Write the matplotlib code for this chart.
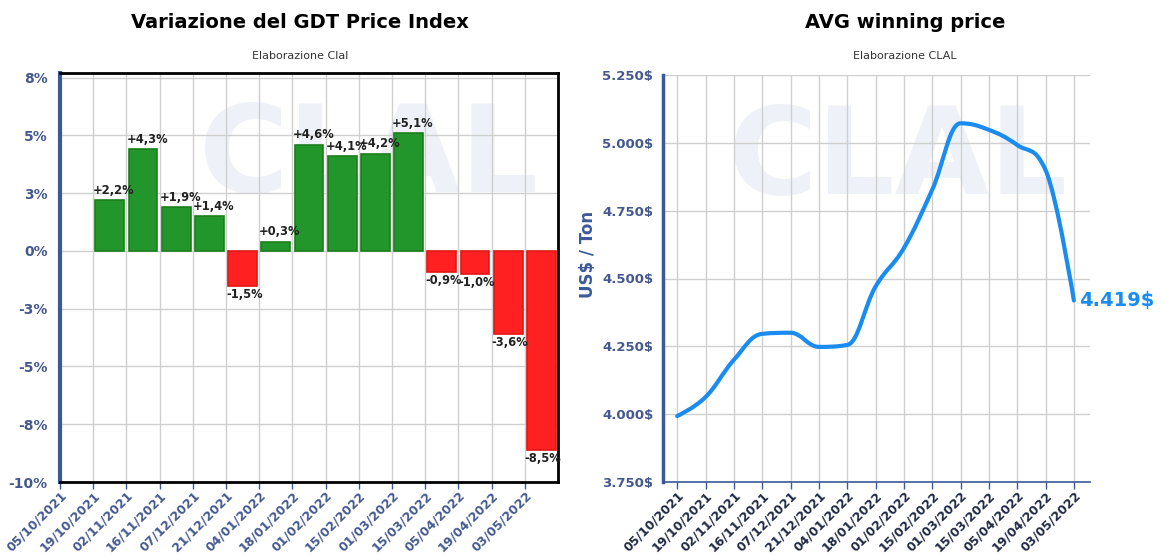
import numpy as np
import matplotlib
matplotlib.use('Agg')
import matplotlib.pyplot as plt
import matplotlib.transforms as mtransforms
from matplotlib.path import Path
from matplotlib.patches import PathPatch

matplotlib.rcParams['font.family'] = ['DejaVu Sans']

# dati
date_labels = ['05/10/2021', '19/10/2021', '02/11/2021', '16/11/2021', '07/12/2021',
               '21/12/2021', '04/01/2022', '18/01/2022', '01/02/2022', '15/02/2022',
               '01/03/2022', '15/03/2022', '05/04/2022', '19/04/2022', '03/05/2022']
gdt_change = [2.2, 4.3, 1.9, 1.4, -1.5, 0.3, 4.6, 4.1, 4.2, 5.1, -0.9, -1.0, -3.6, -8.5]
gdt_bar_height = [2.2, 4.4, 1.9, 1.5, -1.5, 0.4, 4.6, 4.1, 4.2, 5.1, -0.9, -1.0, -3.6, -8.6]
avg_price = [3993, 4063, 4200, 4296, 4300, 4248, 4255, 4470, 4612, 4827,
             5072, 5048, 4992, 4900, 4419]
left_yticks = [-10, -7.5, -5, -2.5, 0, 2.5, 5, 7.5]
left_ytick_labels = ['-10%', '-8%', '-5%', '-3%', '0%', '3%', '5%', '8%']
right_yticks = [3750, 4000, 4250, 4500, 4750, 5000, 5250]
right_ytick_labels = ['3.750$', '4.000$', '4.250$', '4.500$', '4.750$', '5.000$', '5.250$']

axis_blue = '#3b5998'
label_blue = '#44598f'
green = '#22962a'
red = '#ff2121'
line_blue = '#1a8cf0'
wm_color = '#eef1f8'

fig = plt.figure(figsize=(11.63, 5.56), dpi=100)

# ---------------- grafico a barre ----------------
ax1 = fig.add_axes([60 / 1163, 1 - 482 / 556, 498 / 1163, 409 / 556])
ax1.text(0.62, 0.79, 'CLAL', transform=ax1.transAxes, ha='center', va='center',
         fontsize=88, fontweight='bold', color=wm_color, zorder=0, clip_on=True)

xpos = np.arange(len(gdt_change)) + 1.5
colors = [green if v >= 0 else red for v in gdt_change]
edges = ['#1c7f1c' if v >= 0 else '#e01515' for v in gdt_change]
ax1.bar(xpos, gdt_bar_height, width=0.87, color=colors, edgecolor=edges,
        linewidth=1.2, zorder=3)
for x, v, h in zip(xpos, gdt_change, gdt_bar_height):
    txt = ('%+.1f%%' % v).replace('.', ',')
    if v >= 0:
        ax1.text(x - 0.5, h + 0.15, txt, ha='left', va='bottom', fontsize=8.3,
                 fontweight='bold', color='#222222', zorder=4)
    else:
        ax1.text(x - 0.5, h - 0.1, txt, ha='left', va='top', fontsize=8.3,
                 fontweight='bold', color='#222222', zorder=4)

ax1.set_xlim(0, 15)
ax1.set_ylim(-10, 7.7)
ax1.set_xticks(range(len(date_labels)))
ax1.set_xticklabels(date_labels, rotation=45, ha='right', rotation_mode='anchor',
                    fontsize=9, fontweight='bold', color=label_blue)
shift = mtransforms.ScaledTranslation(0.11, -0.03, fig.dpi_scale_trans)
for lab in ax1.get_xticklabels():
    lab.set_transform(lab.get_transform() + shift)
ax1.set_yticks(left_yticks)
ax1.set_yticklabels(left_ytick_labels, fontsize=10, fontweight='bold', color=label_blue)
ax1.tick_params(axis='y', length=0, pad=9)
ax1.tick_params(axis='x', length=5, color=axis_blue, width=1, pad=0)
ax1.grid(True, color='#cfcfcf', linewidth=1, zorder=1)
ax1.set_axisbelow(True)
for s in ['top', 'right', 'bottom']:
    ax1.spines[s].set_color('black')
    ax1.spines[s].set_linewidth(2)
ax1.spines['left'].set_color(axis_blue)
ax1.spines['left'].set_linewidth(3)

fig.text(300 / 1163, 1 - 22 / 556, 'Variazione del GDT Price Index', ha='center',
         va='center', fontsize=14, fontweight='bold')
fig.text(300 / 1163, 1 - 56 / 556, 'Elaborazione Clal', ha='center', va='center',
         fontsize=8, color='#333333')

# ---------------- grafico a linea ----------------
ax2 = fig.add_axes([663 / 1163, 1 - 482 / 556, 427 / 1163, 407 / 556])
ax2.text(0.55, 0.79, 'CLAL', transform=ax2.transAxes, ha='center', va='center',
         fontsize=88, fontweight='bold', color=wm_color, zorder=0, clip_on=True)

# curva smussata (spline tipo Highcharts) costruita dai punti
xs = np.arange(len(avg_price), dtype=float)
ys = np.array(avg_price, dtype=float)
verts = [(xs[0], ys[0])]
codes = [Path.MOVETO]
sm = 1.5
def ctrl(i):
    lx = (sm * xs[i] + xs[i - 1]) / (sm + 1)
    ly = (sm * ys[i] + ys[i - 1]) / (sm + 1)
    rx = (sm * xs[i] + xs[i + 1]) / (sm + 1)
    ry = (sm * ys[i] + ys[i + 1]) / (sm + 1)
    corr = (ry - ly) * (rx - xs[i]) / (rx - lx) + ys[i] - ry
    ly += corr
    ry += corr
    if ly > max(ys[i - 1], ys[i]) or ly < min(ys[i - 1], ys[i]):
        ly = max(min(ly, max(ys[i - 1], ys[i])), min(ys[i - 1], ys[i]))
        ry = 2 * ys[i] - ly
    if ry > max(ys[i + 1], ys[i]) or ry < min(ys[i + 1], ys[i]):
        ry = max(min(ry, max(ys[i + 1], ys[i])), min(ys[i + 1], ys[i]))
        ly = 2 * ys[i] - ry
    return (lx, ly), (rx, ry)

n = len(xs)
cl = [None] * n
cr = [None] * n
cr[0] = (xs[0], ys[0])
cl[n - 1] = (xs[n - 1], ys[n - 1])
for i in range(1, n - 1):
    cl[i], cr[i] = ctrl(i)
for i in range(1, n):
    verts += [cr[i - 1], cl[i], (xs[i], ys[i])]
    codes += [Path.CURVE4] * 3
ax2.add_patch(PathPatch(Path(verts, codes), facecolor='none', edgecolor=line_blue,
                        linewidth=3, capstyle='round', joinstyle='round', zorder=3))

ax2.text(xs[-1] + 0.2, ys[-1], '4.419$', ha='left', va='center', fontsize=14,
         fontweight='bold', color=line_blue, clip_on=False)

ax2.set_xlim(-0.5, 14.57)
ax2.set_ylim(3750, 5250)
ax2.set_xticks(range(len(date_labels)))
ax2.set_xticklabels(date_labels, rotation=45, ha='right', rotation_mode='anchor',
                    fontsize=9, fontweight='bold', color='#1f2a44')
ax2.set_yticks(right_yticks)
ax2.set_yticklabels(right_ytick_labels, fontsize=9.5, fontweight='bold', color=label_blue)
ax2.tick_params(axis='y', length=0, pad=7)
ax2.tick_params(axis='x', length=5, color=axis_blue, width=1, pad=0)
ax2.grid(True, color='#cfcfcf', linewidth=1, zorder=1)
ax2.set_axisbelow(True)
ax2.spines['top'].set_visible(False)
ax2.spines['right'].set_visible(False)
ax2.spines['left'].set_color(axis_blue)
ax2.spines['left'].set_linewidth(2.5)
ax2.spines['bottom'].set_color(axis_blue)
ax2.spines['bottom'].set_linewidth(1.2)
ax2.set_ylabel('US$ / Ton', fontsize=12, fontweight='bold', color=axis_blue)
ax2.yaxis.set_label_coords(-0.155, 0.56)

fig.text(905 / 1163, 1 - 22 / 556, 'AVG winning price', ha='center', va='center',
         fontsize=14, fontweight='bold')
fig.text(905 / 1163, 1 - 56 / 556, 'Elaborazione CLAL', ha='center', va='center',
         fontsize=8, color='#333333')

fig.savefig('out.png', dpi=100)
